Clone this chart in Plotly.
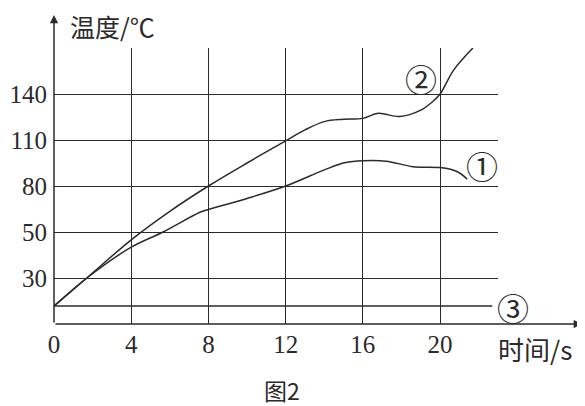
import numpy as np
import plotly.graph_objects as go

# time (s) and temperature (°C)
time_1 = [0, 1.7, 4, 5.65, 7.56, 8, 10, 12, 14, 15.1, 16, 17.2, 18.6, 20, 20.9, 21.4]
temp_1 = [11.7, 30, 43.4, 50, 62.9, 64.7, 71.9, 80, 90.5, 95.3, 96.5, 96.2, 92.6, 92, 89.3, 84.5]

time_2 = [0, 1.7, 4, 6, 8, 10, 12, 13, 14, 15, 16, 16.8, 17.9, 19, 19.6, 20, 20.7, 21.7]
temp_2 = [11.7, 30, 46.6, 63.5, 80, 95, 109.4, 116.6, 122, 123.5, 124.1, 127.4, 125.3, 129.5, 134.9, 140, 155.6, 170]

time_3 = [0, 22.7]
temp_3 = [11.7, 11.7]

x_ticks = [0, 4, 8, 12, 16, 20]
y_tick_temps = [0, 30, 50, 80, 110, 140, 170]   # the axis is not linear: equal steps per label
y_tick_text = ["", "30", "50", "80", "110", "140", ""]
y_tick_pos = list(range(len(y_tick_temps)))

def to_pos(t):
    return np.interp(t, y_tick_temps, y_tick_pos)

ink = "#2b2b2b"
serif = "'Liberation Serif', 'DejaVu Serif', serif"
cjk = "Noto Sans CJK SC"

fig = go.Figure()
for xs, ys in [(time_1, temp_1), (time_2, temp_2), (time_3, temp_3)]:
    fig.add_trace(go.Scatter(x=xs, y=to_pos(ys), mode="lines", line_shape="spline",
                             line=dict(color=ink, width=1.5), hoverinfo="skip", cliponaxis=False))

fig.update_xaxes(range=[0, 23], tickvals=x_ticks, showgrid=True, gridcolor=ink, gridwidth=1.2,
                 zeroline=False, showline=False, ticks="", ticklabelstandoff=3, automargin=False,
                 tickfont=dict(family=serif, size=25, color=ink))
fig.update_yaxes(range=[0, 6], tickvals=y_tick_pos[1:], ticktext=y_tick_text[1:],
                 showgrid=True, gridcolor=ink, gridwidth=1.2, zeroline=False, showline=False,
                 ticks="", ticklabelstandoff=6, automargin=False,
                 tickfont=dict(family=serif, size=25, color=ink))

# axes with arrows
fig.add_annotation(xref="paper", yref="y", x=1.189, y=0, ax=-528, ay=0, text="",
                   showarrow=True, arrowhead=2, arrowsize=1.1, arrowwidth=1.5, arrowcolor=ink)
fig.add_annotation(xref="x", yref="paper", x=0, y=1.12, ax=0, ay=309, text="",
                   showarrow=True, arrowhead=2, arrowsize=1.1, arrowwidth=1.5, arrowcolor=ink)

# curve labels
for xp, yp, lab in [(0.964, 0.577, "①"), (0.826, 0.893, "②"), (1.034, 0.063, "③")]:
    fig.add_annotation(xref="paper", yref="paper", x=xp, y=yp, xanchor="center", yanchor="middle",
                       text=lab, showarrow=False, font=dict(family=cjk, size=32, color=ink))

fig.add_annotation(xref="paper", yref="paper", x=0.031, y=1.08, xanchor="left", yanchor="middle",
                   text="温度/℃", showarrow=False, font=dict(family=cjk, size=25, color=ink))
fig.add_annotation(xref="paper", yref="paper", x=0.995, y=-0.087, xanchor="left", yanchor="middle",
                   text="时间/s", showarrow=False, font=dict(family=cjk, size=26, color=ink))
fig.add_annotation(xref="paper", yref="paper", x=0.513, y=-0.24, xanchor="center", yanchor="middle",
                   text="图2", showarrow=False, font=dict(family=cjk, size=23, color=ink))

# the page body adds an 8px offset, so the figure is 8px smaller than the window
fig.update_layout(width=577, height=398, margin=dict(l=46, r=87, t=40, b=82),
                  plot_bgcolor="white", paper_bgcolor="white", showlegend=False)

fig.write_html("out.html")
